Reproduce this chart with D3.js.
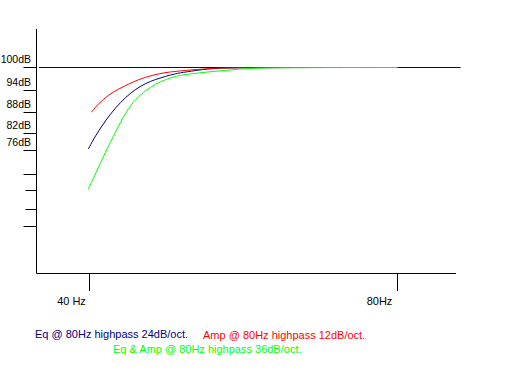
<!DOCTYPE html>
<html>
<head>
<meta charset="utf-8">
<script src="https://cdn.jsdelivr.net/npm/d3@7"></script>
<style>
  body { margin: 0; background: #fff; }
  text { font-family: Arial, "Liberation Sans", sans-serif; font-size: 11px; }
  .ylab { font-size: 10.5px; }
</style>
</head>
<body>
<div id="chart"></div>
<script>
// y ticks (dB); only the first five carry a label
const yTicks = [100, 94, 88, 82, 76, 70, 64, 58, 52];
const yTickLabels = ["100dB", "94dB", "88dB", "82dB", "76dB", "", "", "", ""];
const xTicks = [40, 80];
const xTickLabels = ["40 Hz", "80Hz"];

// response curves, [Hz, dB]
const eqCurve = [[39.9, 76.6], [40.55, 81.3], [41.47, 85.7], [42.4, 89.3], [43.4, 92.2], [44.4, 94.4],
  [45.4, 95.9], [46.4, 96.9], [47.5, 97.7], [48.5, 98.4], [49.6, 98.8], [52.2, 99.7], [55, 100], [80, 100]];
const ampCurve = [[40.18, 88.1], [40.8, 90.4], [41.8, 92.9], [42.7, 94.4], [43.7, 95.7], [44.7, 96.9],
  [45.7, 97.7], [46.8, 98.4], [47.8, 98.8], [49.3, 99.2], [52.9, 99.8], [55.2, 100], [80, 100]];
const bothCurve = [[39.9, 64.6], [40.55, 70.2], [41.47, 75.6], [42.4, 82.4], [43.4, 88.1], [44.4, 91.8],
  [45.4, 94], [46.4, 95.7], [47.5, 96.9], [48.5, 97.7], [49.6, 98.2], [52.9, 99], [55.8, 99.5], [58.4, 100], [80, 100]];
const refLine = [[35.7, 100], [92.2, 100]];

const legendLabels = ["Eq @ 80Hz highpass 24dB/oct.", "Amp @ 80Hz highpass 12dB/oct.", "Eq & Amp @ 80Hz highpass 36dB/oct."];
const colors = ["#000080", "#ff0000", "#00ff00"];

const width = 512, height = 384;

const svg = d3.select("#chart").append("svg")
  .attr("width", width)
  .attr("height", height);

const x = d3.scaleLog().domain([40, 80]).range([89, 397]);
// hand-drawn, uneven tick spacing
const y = d3.scaleLinear().domain(yTicks).range([67, 90, 112, 133, 150, 174, 190, 209, 226]);

const axisX = 36.5, axisTop = 29, axisBottom = 273.5, axisRight = 456;

// axes
svg.append("line")
  .attr("x1", axisX).attr("x2", axisX)
  .attr("y1", axisTop).attr("y2", axisBottom)
  .attr("stroke", "#000");
svg.append("line")
  .attr("x1", axisX).attr("x2", axisRight)
  .attr("y1", axisBottom).attr("y2", axisBottom)
  .attr("stroke", "#000");

// y ticks
const yt = svg.append("g");
yTicks.forEach((v, i) => {
  const yy = Math.round(y(v)) + 0.5;
  const len = (i === 6 || i === 7) ? 11 : 13;
  yt.append("line")
    .attr("x1", axisX - len).attr("x2", axisX)
    .attr("y1", yy).attr("y2", yy)
    .attr("stroke", "#000");
  if (yTickLabels[i]) {
    yt.append("text")
      .attr("class", "ylab")
      .attr("x", 31).attr("y", yy - 5)
      .attr("text-anchor", "end")
      .text(yTickLabels[i]);
  }
});

// x ticks
xTicks.forEach((v, i) => {
  const xx = Math.round(x(v)) + 0.5;
  svg.append("line")
    .attr("x1", xx).attr("x2", xx)
    .attr("y1", axisBottom).attr("y2", 291)
    .attr("stroke", "#000");
  svg.append("text")
    .attr("x", xx - 18).attr("y", 304.5)
    .attr("text-anchor", "middle")
    .text(xTickLabels[i]);
});

const line = d3.line()
  .x(d => x(d[0]))
  .y(d => y(d[1]))
  .curve(d3.curveBasis);

// half-pixel shift so 1px lines sit on pixel rows
const plot = svg.append("g").attr("transform", "translate(0.5,0.5)");

plot.append("path")
  .attr("d", line(refLine))
  .attr("fill", "none")
  .attr("stroke", colors[0]);

[eqCurve, ampCurve, bothCurve].forEach((c, i) => {
  plot.append("path")
    .attr("d", line(c))
    .attr("fill", "none")
    .attr("stroke", colors[i])
    .attr("stroke-width", 1);
});

// legend
const legendPos = [[35, 338], [203, 339], [113, 353]];
legendLabels.forEach((t, i) => {
  svg.append("text")
    .attr("x", legendPos[i][0]).attr("y", legendPos[i][1])
    .attr("fill", colors[i])
    .text(t);
});
</script>
</body>
</html>
